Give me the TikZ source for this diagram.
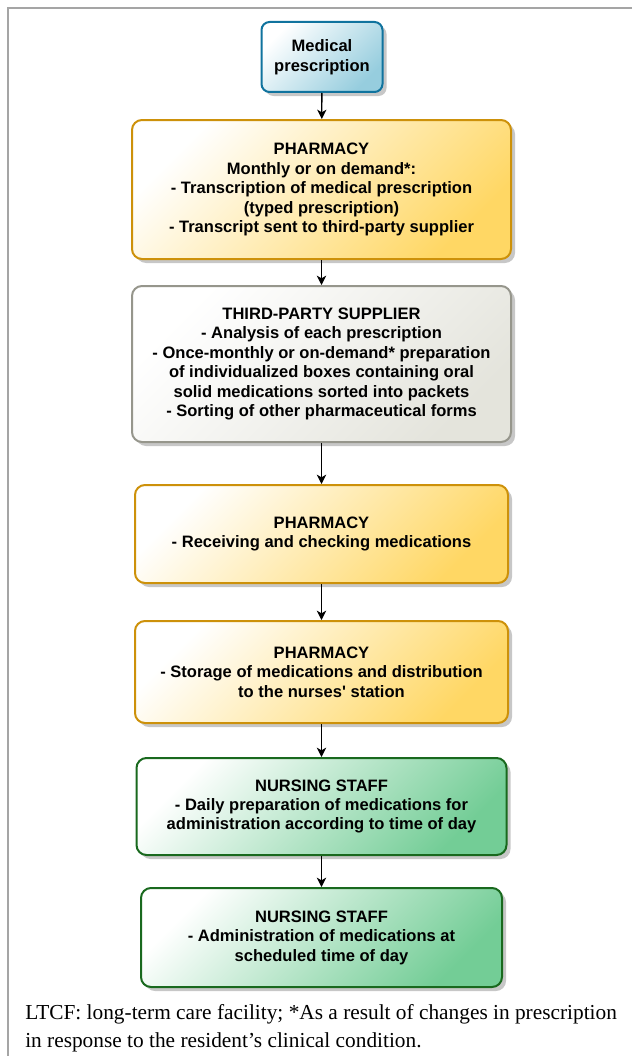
\documentclass[tikz,border=0pt]{standalone}
\usepackage{fontspec}
\setmainfont{Liberation Serif}
\setsansfont{Liberation Sans}
\usetikzlibrary{shadows,arrows.meta}
\definecolor{blueB}{RGB}{16,115,158}
\definecolor{blueF}{RGB}{150,205,222}
\definecolor{orB}{RGB}{205,145,10}
\definecolor{orF}{RGB}{255,215,100}
\definecolor{grB}{RGB}{150,150,140}
\definecolor{grF}{RGB}{228,228,220}
\definecolor{gnB}{RGB}{25,105,30}
\definecolor{gnF}{RGB}{115,205,150}
\definecolor{frameC}{RGB}{165,165,165}
\begin{document}
\begin{tikzpicture}[x=0.75pt,y=-0.75pt,
  box/.style={draw, line width=1.5pt, rounded corners=7.5pt, align=center,
    font=\sffamily\bfseries\fontsize{12.4}{14.6}\selectfont, inner sep=0pt,
    drop shadow={shadow xshift=3pt,shadow yshift=-3pt,opacity=0.22,fill=black}},
  bluebox/.style={box, draw=blueB, left color=white, right color=blueF, shading angle=45},
  orbox/.style={box, draw=orB, left color=white, right color=orF, shading angle=45},
  grbox/.style={box, draw=grB, left color=white, right color=grF, shading angle=45},
  gnbox/.style={box, draw=gnB, left color=white, right color=gnF, shading angle=45},
  arr/.style={draw=black, line width=1pt, -{Stealth[length=7pt,width=7pt,inset=2pt]}},
  frameline/.style={draw=frameC, line width=1.2pt}]
\useasboundingbox (0,0) rectangle (632,1056);
\coordinate (f1) at (632,8);
\coordinate (f2) at (8,8);
\coordinate (f3) at (8,1056);
\draw[frameline] (f1) -- (f2) -- (f3);

\node[bluebox, minimum width=90.75pt, minimum height=52.5pt, rounded corners=6pt, font=\sffamily\bfseries\fontsize{12.4}{15.4}\selectfont] (med) at (322,57)
  {Medical\\prescription};
\node[orbox, minimum width=284.25pt, minimum height=104.25pt] (ph1) at (321.5,189.5)
  {PHARMACY\\Monthly or on demand*:\\- Transcription of medical prescription\\(typed prescription)\\- Transcript sent to third-party supplier};
\node[grbox, minimum width=284.25pt, minimum height=117pt] (tp) at (321.5,364)
  {THIRD-PARTY SUPPLIER\\- Analysis of each prescription\\- Once-monthly or on-demand* preparation\\of individualized boxes containing oral\\solid medications sorted into packets\\- Sorting of other pharmaceutical forms};
\node[orbox, minimum width=279.75pt, minimum height=73.5pt] (ph2) at (321.5,534)
  {PHARMACY\\- Receiving and checking medications};
\node[orbox, minimum width=279.75pt, minimum height=76.5pt] (ph3) at (321.5,672)
  {PHARMACY\\- Storage of medications and distribution\\to the nurses\textquotesingle\ station};
\node[gnbox, minimum width=277.5pt, minimum height=72.75pt] (n1) at (321.5,806.5)
  {NURSING STAFF\\- Daily preparation of medications for\\administration according to time of day};
\node[gnbox, minimum width=270.75pt, minimum height=74.25pt] (n2) at (321.5,937.5)
  {NURSING STAFF\\- Administration of medications at\\scheduled time of day};

\draw[arr] (med) -- (ph1);
\draw[arr] (ph1) -- (tp);
\draw[arr] (tp) -- (ph2);
\draw[arr] (ph2) -- (ph3);
\draw[arr] (ph3) -- (n1);
\draw[arr] (n1) -- (n2);

\node[anchor=west, align=left, inner sep=0pt, font=\fontsize{16}{21}\selectfont] (cap) at (25,1028)
  {LTCF: long-term care facility; *As a result of changes in prescription\\in response to the resident’s clinical condition.};
\end{tikzpicture}
\end{document}
